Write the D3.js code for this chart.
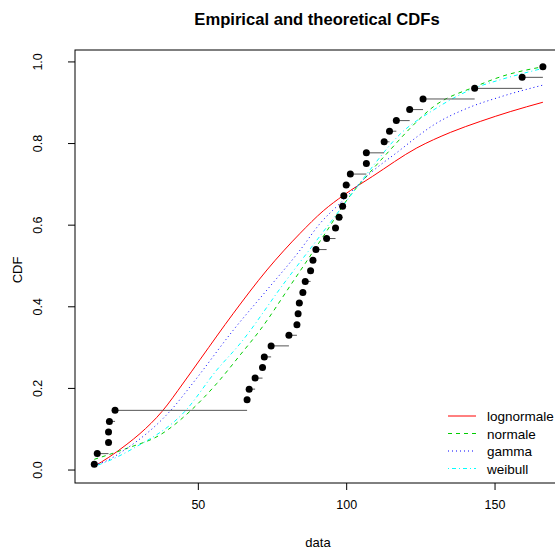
<!DOCTYPE html>
<html>
<head>
<meta charset="utf-8">
<script src="https://cdn.jsdelivr.net/npm/d3@7"></script>
<style>
  html, body { margin: 0; padding: 0; background: #fff; }
  svg text { font-family: "Liberation Sans", Arial, sans-serif; fill: #000; }
</style>
</head>
<body>
<svg id="chart" width="555" height="551"></svg>
<script>
// ---- data ----
const dataValues = [15.1, 16.1, 19.9, 19.9, 20.2, 22.1, 66.6, 67.3, 69.3, 71.8,
  72.4, 74.7, 80.7, 83.4, 83.8, 84.2, 85.4, 86.2, 88.0, 88.8,
  89.8, 93.4, 96.4, 97.6, 98.8, 99.2, 100.0, 101.4, 106.8, 106.8,
  112.8, 114.6, 116.9, 121.4, 125.9, 143.3, 159.3, 166.3];
const empiricalCdf = [0.013, 0.039, 0.066, 0.092, 0.118, 0.145, 0.171, 0.197, 0.224, 0.250,
  0.276, 0.303, 0.329, 0.355, 0.382, 0.408, 0.434, 0.461, 0.487, 0.513,
  0.539, 0.566, 0.592, 0.618, 0.645, 0.671, 0.697, 0.724, 0.750, 0.776,
  0.803, 0.829, 0.855, 0.882, 0.908, 0.934, 0.961, 0.987];

const lognormX = [15.1, 20, 26.1, 30.5, 37.9, 45.1, 50.8, 62.0, 73.3, 84.5, 92.3, 99.1, 108.8, 123.8, 135.1, 145.2, 155.3, 166.3];
const lognormY = [0.008, 0.030, 0.062, 0.088, 0.142, 0.212, 0.270, 0.383, 0.489, 0.579, 0.634, 0.672, 0.718, 0.788, 0.826, 0.853, 0.877, 0.900];

const normX = [15.1, 26.1, 37.3, 47.4, 56.4, 64.3, 71.0, 82.2, 93.5, 100.2, 108.1, 114.8, 121.0, 129.4, 143.4, 151.9, 166.3];
const normY = [0.025, 0.052, 0.085, 0.143, 0.211, 0.281, 0.342, 0.462, 0.585, 0.660, 0.729, 0.783, 0.832, 0.889, 0.938, 0.962, 0.987];

const gammaX = [15.1, 17.1, 26.1, 41.0, 49.1, 62.0, 73.3, 84.5, 91.2, 98.0, 108.1, 118.2, 123.8, 129.4, 140.7, 151.9, 166.3];
const gammaY = [0.011, 0.015, 0.052, 0.146, 0.219, 0.342, 0.440, 0.538, 0.603, 0.653, 0.726, 0.783, 0.815, 0.844, 0.885, 0.913, 0.942];

const weibullX = [15.1, 17.1, 28.3, 45.7, 56.4, 64.3, 78.9, 90.1, 99.1, 108.1, 118.2, 129.4, 143.4, 151.9, 166.3];
const weibullY = [0.008, 0.013, 0.052, 0.143, 0.244, 0.309, 0.455, 0.562, 0.648, 0.735, 0.822, 0.881, 0.935, 0.955, 0.983];

const xTicks = [50, 100, 150];
const yTicks = [0, 0.2, 0.4, 0.6, 0.8, 1.0];
const yTickLabels = ["0.0", "0.2", "0.4", "0.6", "0.8", "1.0"];
const legendLabels = ["lognormale", "normale", "gamma", "weibull"];

// ---- styles ----
const seriesStyle = [
  { x: lognormX, y: lognormY, color: "#FF0000", dash: null },
  { x: normX, y: normY, color: "#00CD00", dash: "4,4" },
  { x: gammaX, y: gammaY, color: "#0000FF", dash: "1,3" },
  { x: weibullX, y: weibullY, color: "#00FFFF", dash: "1,3,4,3" }
];

const svg = d3.select("#chart");
const pLeft = 75, pRight = 561, pTop = 50, pBottom = 483;

const x = d3.scaleLinear().domain([8.6, 172.4]).range([pLeft, pRight]);
const y = d3.scaleLinear().domain([-0.033, 1.028]).range([pBottom, pTop]);

// curves
const line = d3.line().x(d => x(d[0])).y(d => y(d[1])).curve(d3.curveMonotoneX);
seriesStyle.forEach(s => {
  const pts = s.x.map((v, i) => [v, s.y[i]]);
  svg.append("path")
    .attr("d", line(pts))
    .attr("fill", "none")
    .attr("stroke", s.color)
    .attr("stroke-width", 1)
    .attr("stroke-dasharray", s.dash);
});

// horizontal segments of empirical CDF
const segs = dataValues.slice(0, -1).map((v, i) => ({ x1: v, x2: dataValues[i + 1], p: empiricalCdf[i] }));
svg.append("g").selectAll("line").data(segs).join("line")
  .attr("x1", d => x(d.x1)).attr("x2", d => x(d.x2))
  .attr("y1", d => y(d.p)).attr("y2", d => y(d.p))
  .attr("stroke", "#555").attr("stroke-width", 1);

// points
svg.append("g").selectAll("circle").data(dataValues).join("circle")
  .attr("cx", d => x(d))
  .attr("cy", (d, i) => y(empiricalCdf[i]))
  .attr("r", 3.5)
  .attr("fill", "#000");

// box
svg.append("rect")
  .attr("x", pLeft).attr("y", pTop)
  .attr("width", pRight - pLeft).attr("height", pBottom - pTop)
  .attr("fill", "none").attr("stroke", "#000").attr("stroke-width", 1);

// x axis
const xAxis = svg.append("g")
  .attr("transform", `translate(0,${pBottom})`)
  .call(d3.axisBottom(x).tickValues(xTicks).tickSize(7).tickPadding(10).tickFormat(d3.format("d")));
xAxis.select(".domain").remove();
xAxis.selectAll("line").attr("stroke", "#000");
xAxis.selectAll("text").attr("font-size", 12.5).attr("fill", "#000")
  .attr("font-family", "Liberation Sans, Arial, sans-serif");

// y axis
const yAxis = svg.append("g")
  .attr("transform", `translate(${pLeft},0)`)
  .call(d3.axisLeft(y).tickValues(yTicks).tickSize(7).tickFormat((d, i) => yTickLabels[i]));
yAxis.select(".domain").remove();
yAxis.selectAll("line").attr("stroke", "#000");
yAxis.selectAll("text")
  .attr("font-size", 12.5).attr("fill", "#000")
  .attr("font-family", "Liberation Sans, Arial, sans-serif")
  .attr("text-anchor", "middle")
  .attr("x", 0).attr("dy", null).attr("y", 0)
  .attr("transform", "translate(-33,0) rotate(-90)");

// titles
svg.append("text").attr("x", 317).attr("y", 25)
  .attr("text-anchor", "middle").attr("font-size", 16.6).attr("font-weight", "bold")
  .text("Empirical and theoretical CDFs");
svg.append("text").attr("x", 318).attr("y", 547)
  .attr("text-anchor", "middle").attr("font-size", 13).text("data");
svg.append("text").attr("transform", "translate(22,270) rotate(-90)")
  .attr("text-anchor", "middle").attr("font-size", 13).text("CDF");

// legend
const leg = svg.append("g");
legendLabels.forEach((lab, i) => {
  const ly = 416 + i * 17.5;
  leg.append("line").attr("x1", 448).attr("x2", 476).attr("y1", ly).attr("y2", ly)
    .attr("stroke", seriesStyle[i].color).attr("stroke-width", 1)
    .attr("stroke-dasharray", seriesStyle[i].dash);
  leg.append("text").attr("x", 487).attr("y", ly + 5).attr("font-size", 13.5).text(lab);
});
</script>
</body>
</html>
